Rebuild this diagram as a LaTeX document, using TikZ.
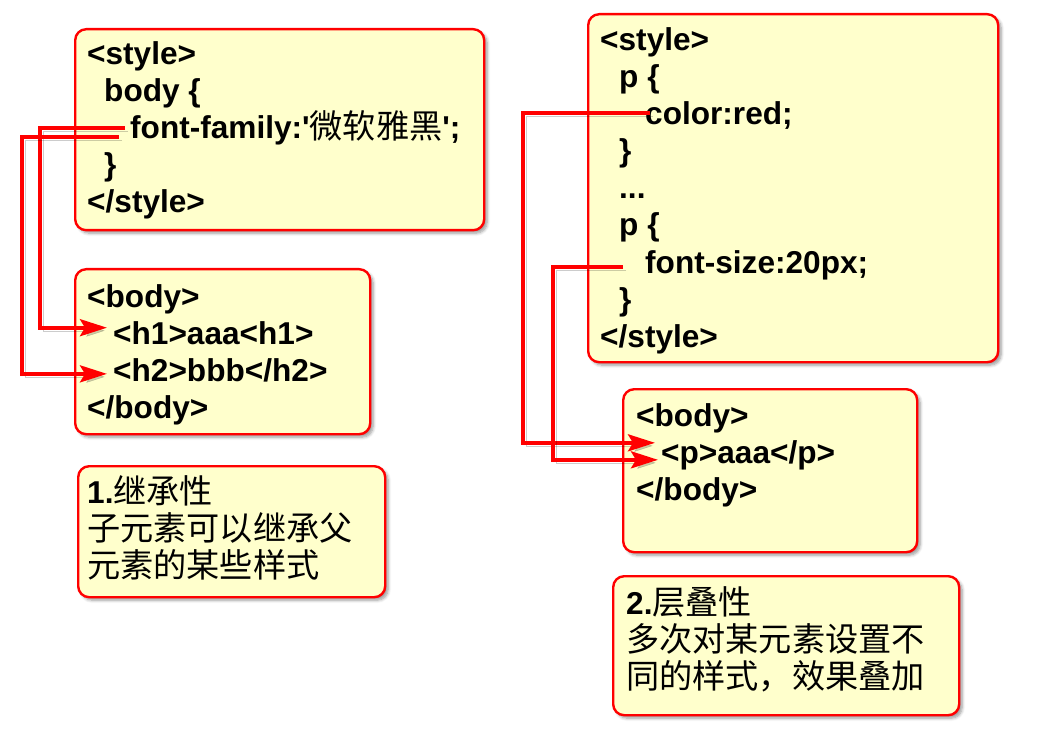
\documentclass[tikz,border=0pt]{standalone}
\usepackage{fontspec}
\setmainfont{Liberation Sans}[Ligatures=TeXOff]
\newfontfamily\cjk{Noto Sans CJK SC}[Scale=1.05]
\usetikzlibrary{arrows.meta,shadows.blur}
\definecolor{boxfill}{RGB}{255,255,204}
\definecolor{boxred}{RGB}{255,0,0}
\tikzset{
  box/.style={draw=boxred, line width=2.4pt, fill=boxfill, rounded corners=11pt,
    anchor=north west, inner sep=0pt,
    blur shadow={shadow xshift=3pt, shadow yshift=-3pt, shadow blur steps=6, shadow blur radius=3pt, shadow opacity=40}},
  txt/.style={anchor=base west, inner sep=0pt, font=\fontsize{31.6}{37}\selectfont\bfseries},
  ctxt/.style={anchor=base west, inner sep=0pt, font=\fontsize{31.6}{37}\selectfont},
  arr/.style={draw=boxred, line width=3.6pt, -{Stealth[length=27pt,width=17pt,inset=5pt]},
    preaction={draw=black, opacity=0.2, transform canvas={shift={(3pt,-3pt)}}}},
}
\begin{document}
\begin{tikzpicture}[x=1pt,y=-1pt]
\useasboundingbox (0,0) rectangle (1042,738);
% boxes
\node[box, minimum width=409pt, minimum height=201pt] (B1) at (74,28) {};
\node[box, minimum width=295pt, minimum height=165pt] (B2) at (74,268) {};
\node[box, minimum width=307pt, minimum height=131pt] (B3) at (77,465) {};
\node[box, minimum width=410pt, minimum height=348pt] (B4) at (587,13) {};
\node[box, minimum width=294pt, minimum height=163pt] (B5) at (622,388) {};
\node[box, minimum width=346pt, minimum height=139pt] (B6) at (612,575) {};
% box 1
\node[txt] (l11) at (87,65) {<style>};
\node[txt] (l12) at (104,102) {body \{};
\node[txt] (l13) at (130,139) {font-family:'{\cjk\mdseries 微软雅黑}';};
\node[txt] (l14) at (104,176) {\}};
\node[txt] (l15) at (87,213) {</style>};
% box 2
\node[txt] (l21) at (87,307) {<body>};
\node[txt] (h1) at (113,344) {<h1>aaa<h1>};
\node[txt] (h2) at (113,381) {<h2>bbb</h2>};
\node[txt] (l24) at (87,418) {</body>};
% box 3
\node[txt] (l31) at (87,503) {1.{\cjk\mdseries 继承性}};
\node[ctxt] (l32) at (87,540) {\cjk 子元素可以继承父};
\node[ctxt] (l33) at (87,577) {\cjk 元素的某些样式};
% box 4
\node[txt] (l41) at (600,51) {<style>};
\node[txt] (l42) at (619,88) {p \{};
\node[txt] (l43) at (645,125) {color:red;};
\node[txt] (l44) at (619,162) {\}};
\node[txt] (l45) at (619,199) {...};
\node[txt] (l46) at (619,236) {p \{};
\node[txt] (l47) at (645,273) {font-size:20px;};
\node[txt] (l48) at (619,310) {\}};
\node[txt] (l49) at (600,347) {</style>};
% box 5
\node[txt] (l51) at (636,426) {<body>};
\node[txt] (pp) at (661,463) {<p>aaa</p>};
\node[txt] (l53) at (636,500) {</body>};
% box 6
\node[txt] (l61) at (626,614) {2.{\cjk\mdseries 层叠性}};
\node[ctxt] (l62) at (626,651) {\cjk 多次对某元素设置不};
\node[ctxt] (l63) at (626,688) {\cjk 同的样式，效果叠加};
% connectors
\coordinate (a1) at (125,128);
\coordinate (a2) at (119,137);
\coordinate (b1) at (650,113);
\coordinate (b2) at (623,267);
\draw[arr] (a1) -- (40,128) |- ([xshift=-6pt,yshift=5pt]h1.west);
\draw[arr] (a2) -- (22,137) |- ([xshift=-6pt,yshift=-4pt]h2.west);
\draw[arr] (b1) -- (523,113) |- ([xshift=-6pt,yshift=12pt]pp.west);
\draw[arr] (b2) -- (553,267) |- ([xshift=-3pt,yshift=-5pt]pp.west);
\end{tikzpicture}
\end{document}
